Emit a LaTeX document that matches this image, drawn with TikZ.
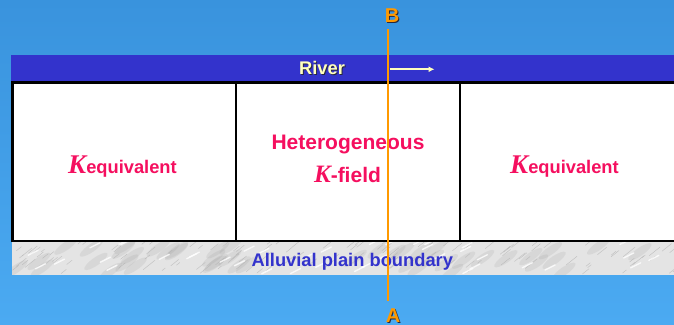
\documentclass[tikz,border=0pt]{standalone}
\usepackage{fontspec}
\setmainfont{Liberation Sans}
\newfontfamily\kserif{Liberation Serif}
\usetikzlibrary{arrows.meta,positioning,calc}
\definecolor{skytop}{RGB}{57,147,221}
\definecolor{skybottom}{RGB}{75,170,242}
\definecolor{riverblue}{RGB}{51,51,204}
\definecolor{rivertext}{RGB}{255,255,190}
\definecolor{marble}{RGB}{228,228,228}
\definecolor{kpink}{RGB}{245,15,95}
\definecolor{sectionorange}{RGB}{255,153,0}
\definecolor{shadowgray}{RGB}{40,40,60}

% text with a small dark drop shadow
\newcommand{\dropshadow}[1]{\rlap{\kern1pt\raisebox{-1pt}{\color{shadowgray}#1}}#1}
% italic serif K as used in the field labels
\newcommand{\kletter}[1]{{\fontsize{#1}{#1}\selectfont\kserif\bfseries\itshape K}}

\begin{document}
\begin{tikzpicture}[
  x=1pt,y=-1pt,
  font=\bfseries,
  cell/.style={draw=black,fill=white,line width=2.6pt,inner sep=0pt,outer sep=0pt,
    minimum width=224pt,minimum height=158.5pt},
  fieldtext/.style={text=kpink,anchor=base,inner sep=0pt,font=\bfseries\fontsize{18.3}{22}\selectfont},
  hettext/.style={text=kpink,anchor=base,inner sep=0pt,font=\bfseries\fontsize{21}{25}\selectfont},
  bandtext/.style={anchor=base,inner sep=0pt,font=\bfseries\fontsize{18.3}{22}\selectfont},
  endlabel/.style={text=sectionorange,anchor=base,inner sep=0pt,font=\bfseries\fontsize{20}{24}\selectfont},
  section/.style={draw=sectionorange,line width=2.6pt},
  flow/.style={-{Latex[length=6pt,width=6pt]},draw=rivertext,line width=2pt},
  streak/.style={draw=gray!60,line width=0.45pt,line cap=round,opacity=0.7}
]
\useasboundingbox (0,0) rectangle (674,324);
\clip (0,0) rectangle (674,324);
\shade[top color=skytop,bottom color=skybottom] (0,0) rectangle (674,324);

% -------------------------------------------------------------------------
% River band and alluvial plain boundary.
% -------------------------------------------------------------------------
\fill[riverblue] (11,55) rectangle (680,81);
\fill[marble] (12,242) rectangle (680,274.5);
\begin{scope}
  \clip (12,242) rectangle (680,274.5);
  \pgfmathsetseed{11}
  % cloudy grey patches
  \foreach \i in {1,...,45}{
    \pgfmathsetmacro\sx{12+668*rnd}
    \pgfmathsetmacro\sy{244+30*rnd}
    \fill[gray,opacity=0.12,rotate around={35:(\sx,\sy)}] (\sx,\sy) ellipse (14 and 4);
  }
  \foreach \i in {1,...,130}{
    \pgfmathsetmacro\sx{12+668*rnd}
    \pgfmathsetmacro\sy{244+30*rnd}
    \pgfmathsetmacro\len{3+9*rnd}
    \draw[streak] (\sx,\sy) -- ++(\len,-0.8*\len);
  }
  \foreach \i in {1,...,40}{
    \pgfmathsetmacro\sx{12+668*rnd}
    \pgfmathsetmacro\sy{244+30*rnd}
    \draw[draw=white,line width=1.4pt,line cap=round,opacity=0.8] (\sx,\sy) -- ++(10,-5);
  }
\end{scope}

% -------------------------------------------------------------------------
% The three aquifer cells.
% -------------------------------------------------------------------------
\node[cell,minimum width=223.5pt] (leftcell) at (124.25,161.75) {};
\node[cell,right=0pt of leftcell] (midcell) {};
\node[cell,right=0pt of midcell] (rightcell) {};

\node[fieldtext] (leftlabel) at (122.5,173) {\kletter{27}equivalent};
\node[hettext] (hetlabel) at (348,149.3) {Heterogeneous};
\node[hettext] (kfieldlabel) at (347.5,182.8) {\kletter{25}-field};
\node[fieldtext] (rightlabel) at (564.5,173.5) {\kletter{27}equivalent};

\node[bandtext,text=rivertext] (riverlabel) at (322,74.5) {\dropshadow{River}};
\node[bandtext,text=riverblue] (plainlabel) at (352.3,266) {Alluvial plain boundary};

% -------------------------------------------------------------------------
% Section line B--A and flow direction.
% -------------------------------------------------------------------------
\node[endlabel] (labelB) at (392,22.3) {\dropshadow{B}};
\node[endlabel] (labelA) at (393,322.6) {\dropshadow{A}};
\coordinate (secttop) at (388,29.3);
\coordinate (sectbottom) at (388,300.7);
\draw[section] (secttop) -- (sectbottom);

\coordinate (flowstart) at (389.5,69.3);
\coordinate (flowend) at (434.5,69.3);
\draw[flow] (flowstart) -- (flowend);
\end{tikzpicture}
\end{document}
